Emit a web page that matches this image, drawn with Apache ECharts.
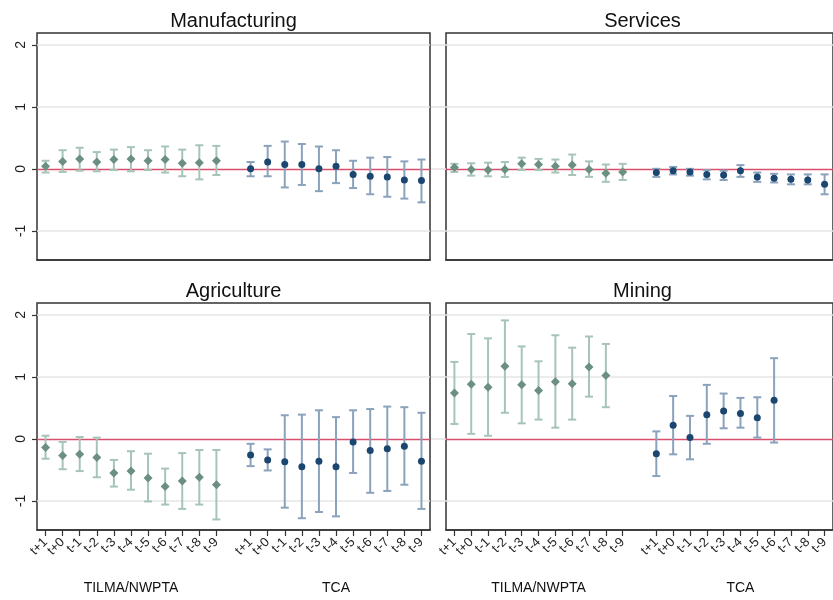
<!DOCTYPE html>
<html>
<head>
<meta charset="utf-8">
<script src="https://cdn.jsdelivr.net/npm/echarts@6/dist/echarts.min.js"></script>
<style>
    html, body { margin: 0; padding: 0; background: #fff; }
    #chart { width: 833px; height: 600px; }
</style>
</head>
<body>
<div id="chart"></div>
<script>
"use strict";

// event time labels, same for both agreements
var lags = ["t+1", "t+0", "t-1", "t-2", "t-3", "t-4", "t-5", "t-6", "t-7", "t-8", "t-9"];
var groups = ["TILMA/NWPTA", "TCA"];
var panels = ["Manufacturing", "Services", "Agriculture", "Mining"];
var yTicks = [-1, 0, 1, 2];

// Manufacturing
var manTilma   = [0.04, 0.12, 0.16, 0.11, 0.15, 0.16, 0.13, 0.15, 0.09, 0.10, 0.13];
var manTilmaHi = [0.13, 0.30, 0.34, 0.27, 0.31, 0.35, 0.30, 0.36, 0.31, 0.38, 0.37];
var manTilmaLo = [-0.06, -0.05, -0.03, -0.04, -0.02, -0.04, -0.02, -0.06, -0.12, -0.17, -0.10];
var manTca     = [0.00, 0.11, 0.07, 0.07, 0.00, 0.04, -0.09, -0.12, -0.13, -0.18, -0.19];
var manTcaHi   = [0.11, 0.37, 0.44, 0.40, 0.36, 0.30, 0.13, 0.18, 0.19, 0.12, 0.15];
var manTcaLo   = [-0.12, -0.12, -0.30, -0.26, -0.36, -0.23, -0.31, -0.41, -0.45, -0.48, -0.54];

// Services
var serTilma   = [0.02, -0.01, -0.02, -0.01, 0.08, 0.07, 0.04, 0.06, -0.01, -0.07, -0.05];
var serTilmaHi = [0.08, 0.09, 0.10, 0.11, 0.18, 0.16, 0.15, 0.23, 0.12, 0.07, 0.08];
var serTilmaLo = [-0.05, -0.11, -0.12, -0.13, -0.02, -0.02, -0.06, -0.10, -0.13, -0.21, -0.18];
var serTca     = [-0.06, -0.03, -0.05, -0.09, -0.10, -0.03, -0.13, -0.15, -0.17, -0.18, -0.25];
var serTcaHi   = [0.00, 0.03, 0.00, -0.02, -0.03, 0.06, -0.06, -0.08, -0.09, -0.09, -0.09];
var serTcaLo   = [-0.13, -0.09, -0.11, -0.17, -0.18, -0.13, -0.21, -0.22, -0.25, -0.25, -0.41];

// Agriculture
var agrTilma   = [-0.14, -0.27, -0.25, -0.30, -0.55, -0.52, -0.63, -0.77, -0.68, -0.62, -0.74];
var agrTilmaHi = [0.05, -0.05, 0.03, 0.02, -0.34, -0.20, -0.24, -0.48, -0.23, -0.18, -0.18];
var agrTilmaLo = [-0.32, -0.49, -0.52, -0.62, -0.77, -0.82, -1.01, -1.06, -1.13, -1.06, -1.30];
var agrTca     = [-0.26, -0.34, -0.37, -0.45, -0.36, -0.45, -0.05, -0.19, -0.16, -0.12, -0.36];
var agrTcaHi   = [-0.08, -0.17, 0.38, 0.39, 0.46, 0.35, 0.46, 0.48, 0.52, 0.51, 0.42];
var agrTcaLo   = [-0.44, -0.51, -1.11, -1.28, -1.18, -1.25, -0.55, -0.87, -0.84, -0.74, -1.13];

// Mining (later lags not estimated)
var minTilma   = [0.74, 0.88, 0.83, 1.17, 0.87, 0.78, 0.92, 0.89, 1.16, 1.02, null];
var minTilmaHi = [1.24, 1.69, 1.62, 1.91, 1.49, 1.25, 1.67, 1.47, 1.65, 1.53, null];
var minTilmaLo = [0.24, 0.08, 0.05, 0.42, 0.25, 0.31, 0.18, 0.31, 0.68, 0.51, null];
var minTca     = [-0.24, 0.22, 0.02, 0.39, 0.45, 0.41, 0.34, 0.62, null, null, null];
var minTcaHi   = [0.12, 0.69, 0.37, 0.87, 0.73, 0.66, 0.67, 1.30, null, null, null];
var minTcaLo   = [-0.60, -0.25, -0.33, -0.08, 0.17, 0.18, 0.02, -0.06, null, null, null];

var panelData = [
    [manTilma, manTilmaLo, manTilmaHi, manTca, manTcaLo, manTcaHi],
    [serTilma, serTilmaLo, serTilmaHi, serTca, serTcaLo, serTcaHi],
    [agrTilma, agrTilmaLo, agrTilmaHi, agrTca, agrTcaLo, agrTcaHi],
    [minTilma, minTilmaLo, minTilmaHi, minTca, minTcaLo, minTcaHi]
];

// 23 slots: 11 lags, an empty gap, 11 lags
var slots = lags.concat([""], lags);
var tcaOffset = 12;
var gapIndex = 11;

var font = "'Liberation Sans', Arial, sans-serif";
var green = "#6b8f80", greenBar = "#a6c4b8";
var navy = "#1b4670", navyBar = "#8aa2bb";

var grids = [
    {left: 37, top: 33, width: 393, height: 227},
    {left: 446, top: 33, width: 392, height: 227},
    {left: 37, top: 303, width: 393, height: 227},
    {left: 446, top: 303, width: 392, height: 227}
];

function points(coef, offset) {
    var out = [];
    coef.forEach((v, i) => { if (v !== null) out.push([offset + i, v]); });
    return out;
}

function ranges(lo, hi, offset) {
    var out = [];
    lo.forEach((v, i) => { if (v !== null) out.push([offset + i, v, hi[i]]); });
    return out;
}

// capped vertical error bar
function errorBar(params, api) {
    var x = api.value(0);
    var a = api.coord([x, api.value(1)]);
    var b = api.coord([x, api.value(2)]);
    var c = api.visual("color");
    var half = 4;
    var st = {stroke: c, lineWidth: 2};
    return {
        type: "group",
        children: [
            {type: "line", shape: {x1: a[0], y1: a[1], x2: b[0], y2: b[1]}, style: st},
            {type: "line", shape: {x1: a[0] - half, y1: a[1], x2: a[0] + half, y2: a[1]}, style: st},
            {type: "line", shape: {x1: b[0] - half, y1: b[1], x2: b[0] + half, y2: b[1]}, style: st}
        ]
    };
}

var xAxes = [], yAxes = [], series = [], graphics = [];

panels.forEach((name, p) => {
    var bottom = p >= 2;
    var leftCol = p % 2 === 0;
    var d = panelData[p];
    var g = grids[p];

    graphics.push({
        type: "text",
        x: g.left + 196.5,
        y: bottom ? 291 : 21,
        style: {text: name, font: "20px " + font, fill: "#111", align: "center", verticalAlign: "middle"}
    });

    xAxes.push({
        gridIndex: p,
        type: "category",
        position: "bottom",
        data: slots,
        axisLine: {show: true, onZero: false, lineStyle: {color: "#333", width: 1.5}},
        axisTick: {
            show: bottom, alignWithLabel: true, length: 6,
            interval: (i) => i !== gapIndex,
            lineStyle: {color: "#333", width: 1.2}
        },
        axisLabel: {show: bottom, interval: 0, rotate: 45, margin: 10, fontSize: 13, color: "#222", fontFamily: font},
        splitLine: {show: false}
    });

    if (bottom) {
        // group names under the lag labels
        xAxes.push({
            gridIndex: p,
            type: "category",
            position: "bottom",
            data: slots,
            axisLine: {show: false, onZero: false},
            axisTick: {show: false},
            splitLine: {show: false},
            axisLabel: {
                interval: 0, margin: 51, fontSize: 14, color: "#111", fontFamily: font,
                formatter: (v, i) => i === 5 ? groups[0] : (i === 17 ? groups[1] : "")
            }
        });
    }

    yAxes.push({
        gridIndex: p,
        type: "value",
        min: -1.47,
        max: 2.19,
        axisLine: {show: false, onZero: false},
        splitLine: {show: false},
        axisTick: {
            show: true, customValues: yTicks, length: leftCol ? 5 : 15,
            lineStyle: {color: leftCol ? "#333" : "#e2e2e2", width: leftCol ? 1.2 : 1.5}
        },
        axisLabel: {show: leftCol, customValues: yTicks, rotate: 90, margin: 9, fontSize: 14, color: "#222", fontFamily: font}
    });

    var xi = xAxes.length - (bottom ? 2 : 1);

    series.push({
        type: "custom",
        xAxisIndex: xi, yAxisIndex: p,
        renderItem: errorBar,
        itemStyle: {color: greenBar},
        encode: {x: 0, y: [1, 2]},
        data: ranges(d[1], d[2], 0),
        silent: true,
        markLine: {
            silent: true, z: 1, symbol: ["none", "none"], label: {show: false},
            lineStyle: {type: "solid", color: "#e6e6e6", width: 1.5},
            data: [
                {yAxis: -1}, {yAxis: 1}, {yAxis: 2},
                {yAxis: 0, lineStyle: {color: "#d9506c", width: 1.3}}
            ]
        }
    });
    series.push({
        type: "custom",
        xAxisIndex: xi, yAxisIndex: p,
        renderItem: errorBar,
        itemStyle: {color: navyBar},
        encode: {x: 0, y: [1, 2]},
        data: ranges(d[4], d[5], tcaOffset),
        silent: true
    });
    series.push({
        type: "scatter",
        xAxisIndex: xi, yAxisIndex: p,
        symbol: "diamond", symbolSize: 9,
        itemStyle: {color: green, opacity: 1},
        data: points(d[0], 0),
        z: 4
    });
    series.push({
        type: "scatter",
        xAxisIndex: xi, yAxisIndex: p,
        symbol: "circle", symbolSize: 7,
        itemStyle: {color: navy, opacity: 1},
        data: points(d[3], tcaOffset),
        z: 4
    });
});

var chart = echarts.init(document.getElementById("chart"));
chart.setOption({
    animation: false,
    backgroundColor: "#fff",
    grid: grids.map(g => Object.assign({show: true, borderColor: "#333", borderWidth: 1.5, backgroundColor: "transparent"}, g)),
    xAxis: xAxes,
    yAxis: yAxes,
    series: series,
    graphic: graphics
});
</script>
</body>
</html>
